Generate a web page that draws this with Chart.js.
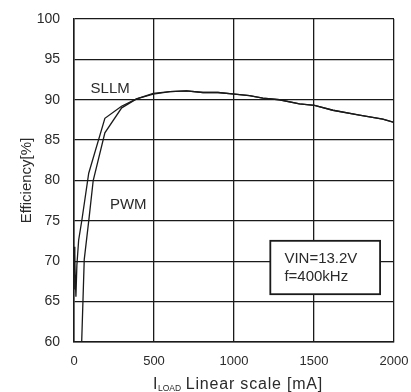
<!DOCTYPE html>
<html>
<head>
<meta charset="utf-8">
<script src="https://cdn.jsdelivr.net/npm/chart.js@4.4.1/dist/chart.umd.min.js"></script>
<style>
  html, body { margin: 0; padding: 0; background: #fff; }
  #wrap { width: 411px; height: 392px; }
</style>
</head>
<body>
<div id="wrap"><canvas id="eff" width="411" height="392"></canvas></div>
<script>
// efficiency vs load current
var sllmCurrent = [3, 6, 4, 8, 5, 12, 18, 29, 50, 92, 193, 297, 391, 495, 600, 703, 806, 900, 1004, 1097, 1180, 1284, 1409, 1503, 1618, 1784, 1930, 2000];
var sllmEff     = [71.8, 66.5, 71, 67, 70, 65.6, 69.5, 72.6, 75.2, 80.9, 87.7, 89.2, 90.1, 90.8, 91.0, 91.1, 90.9, 90.9, 90.7, 90.5, 90.2, 90.0, 89.5, 89.3, 88.7, 88.1, 87.6, 87.2];

var pwmCurrent  = [48, 64, 95, 120, 193, 298, 391, 495, 600, 703, 806, 900, 1004, 1097, 1180, 1284, 1409, 1503, 1618, 1784, 1930, 2000];
var pwmEff      = [60, 70.2, 75.5, 80, 85.9, 89.0, 90.1, 90.7, 91.0, 91.1, 90.9, 90.9, 90.7, 90.5, 90.2, 90.0, 89.5, 89.3, 88.7, 88.1, 87.6, 87.2];

var xTicks = [0, 500, 1000, 1500, 2000];
var yTicks = [60, 65, 70, 75, 80, 85, 90, 95, 100];

var seriesNames = ['SLLM', 'PWM'];
var conditions  = ['VIN=13.2V', 'f=400kHz'];

function toPoints(xs, ys) {
    return xs.map(function(x, i) { return { x: x, y: ys[i] }; });
}

var INK = '#1a1a1a';
var TXT = '#2a2a2a';
var FONT = '"Liberation Sans", Arial, sans-serif';

// labels, condition box and the x title (with subscript)
var decorPlugin = {
    id: 'decor',
    afterDatasetsDraw: function(chart) {
        var c = chart.ctx, xs = chart.scales.x, ys = chart.scales.y, a = chart.chartArea;
        c.save();
        c.fillStyle = TXT;
        c.font = '15px ' + FONT;
        c.textAlign = 'center';
        c.textBaseline = 'middle';
        c.fillText(seriesNames[0], xs.getPixelForValue(226), ys.getPixelForValue(91.4));
        c.fillText(seriesNames[1], xs.getPixelForValue(339), ys.getPixelForValue(77.0));

        // condition box
        var bx1 = xs.getPixelForValue(1227), bx2 = xs.getPixelForValue(1913);
        var by1 = ys.getPixelForValue(72.53), by2 = ys.getPixelForValue(65.92);
        c.fillStyle = '#fff';
        c.fillRect(bx1, by1, bx2 - bx1, by2 - by1);
        c.strokeStyle = INK;
        c.lineWidth = 1.8;
        c.strokeRect(bx1, by1, bx2 - bx1, by2 - by1);
        c.fillStyle = TXT;
        c.textAlign = 'left';
        c.fillText(conditions[0], xs.getPixelForValue(1315), ys.getPixelForValue(70.26));
        c.fillText(conditions[1], xs.getPixelForValue(1315), ys.getPixelForValue(68.1));

        // x axis title: I_LOAD Linear scale [mA]
        var base = a.bottom + 47;
        c.textBaseline = 'alphabetic';
        c.font = '16px ' + FONT;
        var wI = c.measureText('I').width;
        c.font = '8.5px ' + FONT;
        var wSub = c.measureText('LOAD').width;
        c.font = '16px ' + FONT;
        c.letterSpacing = '0.8px';
        var rest = ' Linear scale [mA]';
        var wRest = c.measureText(rest).width;
        var start = (a.left + a.right) / 2 + 4 - (wI + wSub + wRest) / 2;
        c.letterSpacing = '0px';
        c.fillText('I', start, base);
        c.font = '8.5px ' + FONT;
        c.fillText('LOAD', start + wI + 0.5, base + 2);
        c.font = '16px ' + FONT;
        c.letterSpacing = '0.8px';
        c.fillText(rest, start + wI + wSub, base);
        c.restore();
    }
};

new Chart(document.getElementById('eff').getContext('2d'), {
    type: 'scatter',
    data: {
        datasets: [{
            label: seriesNames[0],
            data: toPoints(sllmCurrent, sllmEff),
            showLine: true,
            borderColor: INK,
            borderWidth: 1.3,
            pointRadius: 0,
            tension: 0
        }, {
            label: seriesNames[1],
            data: toPoints(pwmCurrent, pwmEff),
            showLine: true,
            borderColor: INK,
            borderWidth: 1.3,
            pointRadius: 0,
            tension: 0
        }]
    },
    options: {
        responsive: false,
        animation: false,
        layout: { padding: { top: 19, right: 17, left: 0, bottom: 0 } },
        plugins: { legend: { display: false }, tooltip: { enabled: false } },
        scales: {
            x: {
                type: 'linear', min: 0, max: 2000,
                afterFit: function(s) { s.height = 50; s.paddingLeft = 0; s.paddingRight = 0; },
                afterBuildTicks: function(s) { s.ticks = xTicks.map(function(v) { return { value: v }; }); },
                ticks: { padding: 12, color: TXT, font: { family: FONT, size: 13 }, maxRotation: 0,
                         callback: function(v) { return String(v); } },
                grid: { color: INK, lineWidth: 1.3, drawTicks: false },
                border: { color: INK, width: 1.5 }
            },
            y: {
                type: 'linear', min: 60, max: 100,
                afterFit: function(s) { s.width = 74; s.paddingTop = 0; s.paddingBottom = 0; },
                afterBuildTicks: function(s) { s.ticks = yTicks.map(function(v) { return { value: v }; }); },
                ticks: { padding: 14, color: TXT, font: { family: FONT, size: 14 },
                         callback: function(v) { return String(v); } },
                grid: { color: INK, lineWidth: 1.3, drawTicks: false },
                border: { color: INK, width: 1.5 },
                title: {
                    display: true, text: 'Efficiency[%]', color: TXT,
                    font: { family: FONT, size: 15 }, padding: { top: 18, bottom: 0 }
                }
            }
        }
    },
    plugins: [decorPlugin]
});
</script>
</body>
</html>
